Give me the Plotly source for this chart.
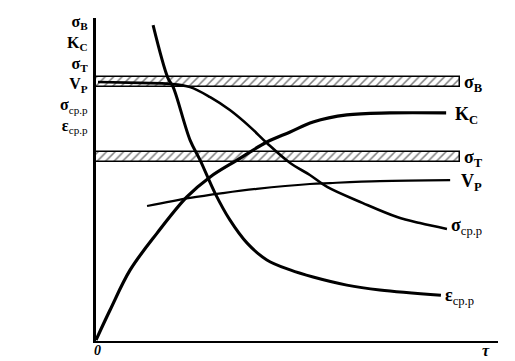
import plotly.graph_objects as go

# ---- data (x = time, y = relative value, 0..10 scale) ----
sigma_cp_x = [0.05, 1.09, 1.84, 2.34, 2.84, 3.33, 3.83, 4.25, 4.83, 5.32, 5.75, 6.64, 7.49, 8.06, 8.73]
sigma_cp_y = [8.02, 7.99, 7.96, 7.86, 7.55, 7.15, 6.63, 6.13, 5.51, 5.14, 4.77, 4.27, 3.84, 3.65, 3.47]

kc_x = [0.0, 0.35, 0.85, 1.52, 2.26, 2.84, 3.51, 4.25, 4.83, 5.40, 6.24, 7.31, 8.71]
kc_y = [0.03, 0.96, 2.20, 3.34, 4.46, 5.08, 5.60, 6.16, 6.47, 6.78, 7.00, 7.06, 7.06]

vp_x = [1.27, 2.34, 3.16, 4.00, 5.32, 5.82, 7.06, 8.81]
vp_y = [4.18, 4.43, 4.58, 4.71, 4.86, 4.89, 4.95, 4.98]

eps_cp_x = [1.42, 1.79, 1.92, 2.34, 2.59, 2.96, 3.33, 3.76, 4.25, 4.83, 5.40, 6.24, 7.06, 8.58]
eps_cp_y = [9.78, 8.14, 7.86, 6.22, 5.60, 4.58, 3.75, 3.03, 2.51, 2.20, 1.98, 1.73, 1.58, 1.42]

band_names = ["σB", "σT"]
band_centers = [8.02, 5.70]
band_lengths = [9.05, 9.05]
band_thickness = 0.31

left_labels = ["<b>σ</b><sub><b>B</b></sub>", "<b>K</b><sub><b>C</b></sub>",
               "<b>σ</b><sub><b>T</b></sub>", "<b>V</b><sub><b>P</b></sub>",
               "<b>σ</b><sub>cp.p</sub>", "<b>ε</b><sub>cp.p</sub>"]
right_labels = ["<b>σ</b><sub><b>B</b></sub>", "<b>K</b><sub><b>C</b></sub>",
                "<b>σ</b><sub><b>T</b></sub>", "<b>V</b><sub><b>P</b></sub>",
                "<b>σ</b><sub>cp.p</sub>", "<b>ε</b><sub>cp.p</sub>"]
x_tick_labels = ["<b><i>0</i></b>", "<b><i>τ</i></b>"]

fig = go.Figure()

# hatched bands (strength limits)
fig.add_trace(go.Bar(
    y=band_centers, x=band_lengths, base=0, orientation="h", width=band_thickness,
    marker=dict(color="white", line=dict(color="black", width=1.5),
                pattern=dict(shape="/", fgcolor="black", bgcolor="white",
                             size=6, solidity=0.25)),
    showlegend=False, hoverinfo="skip"))

line_style = dict(color="black", shape="spline", smoothing=1.0)
fig.add_trace(go.Scatter(x=sigma_cp_x, y=sigma_cp_y, mode="lines",
                         line=dict(width=2.6, **line_style), showlegend=False))
fig.add_trace(go.Scatter(x=kc_x, y=kc_y, mode="lines",
                         line=dict(width=3.2, **line_style), showlegend=False))
fig.add_trace(go.Scatter(x=vp_x, y=vp_y, mode="lines",
                         line=dict(width=2.2, **line_style), showlegend=False))
fig.add_trace(go.Scatter(x=eps_cp_x, y=eps_cp_y, mode="lines",
                         line=dict(width=3.0, **line_style), showlegend=False))

serif = "Liberation Serif"
W, H, L, T = 402, 323, 96, 341

def px(x):
    return (x - L) / W

def py(y):
    return (T - y) / H

annotations = []
# left stacked labels as one block
annotations.append(dict(
    xref="paper", yref="paper", x=px(90), y=py(11),
    xanchor="right", yanchor="top", align="right", showarrow=False,
    text="<br>".join(left_labels),
    font=dict(family=serif, size=16, color="black")))

# right labels at curve / band ends
right_pos = [(462, 83), (453, 116), (462, 158), (459, 182), (449, 227), (443, 296)]
for text, (xp, yp) in zip(right_labels, right_pos):
    annotations.append(dict(
        xref="paper", yref="paper", x=px(xp), y=py(yp),
        xanchor="left", yanchor="middle", showarrow=False,
        text=text, font=dict(family=serif, size=18, color="black")))

for text, xp, size in zip(x_tick_labels, [97, 486], [14, 16]):
    annotations.append(dict(
        xref="paper", yref="paper", x=px(xp), y=py(350),
        xanchor="center", yanchor="middle", showarrow=False,
        text=text, font=dict(family=serif, size=size, color="black")))

fig.update_layout(
    width=515, height=361,
    margin=dict(l=96, r=17, t=18, b=20),
    paper_bgcolor="white", plot_bgcolor="white",
    xaxis=dict(range=[0, 10], showgrid=False, zeroline=False, showticklabels=False,
               showline=True, linecolor="black", linewidth=2, ticks=""),
    yaxis=dict(range=[0, 10], showgrid=False, zeroline=False, showticklabels=False,
               showline=True, linecolor="black", linewidth=3, ticks=""),
    annotations=annotations,
    bargap=0,
)

fig.write_html("out.html")
